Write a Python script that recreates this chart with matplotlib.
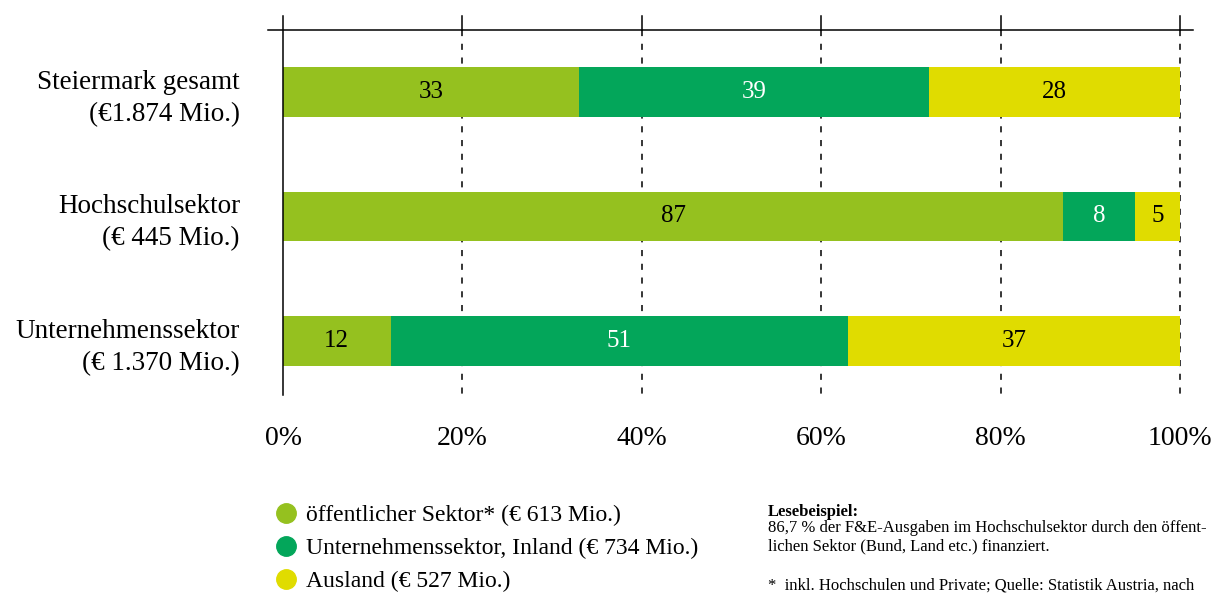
import matplotlib.pyplot as plt
from matplotlib.lines import Line2D

plt.rcParams['font.family'] = ['Liberation Serif', 'DejaVu Serif']

# Anteile je Finanzierungsquelle (in %)
kategorien = ['Steiermark gesamt\n(€1.874 Mio.)',
              'Hochschulsektor\n(€ 445 Mio.)',
              'Unternehmenssektor\n(€ 1.370 Mio.)']
oeffentlich = [33, 87, 12]
unternehmen = [39, 8, 51]
ausland = [28, 5, 37]

serien = [
    ('öffentlicher Sektor* (€ 613 Mio.)', oeffentlich, '#95c11f', 'black'),
    ('Unternehmenssektor, Inland (€ 734 Mio.)', unternehmen, '#03a65a', 'white'),
    ('Ausland (€ 527 Mio.)', ausland, '#e0dc00', 'black'),
]
ticks = [0, 20, 40, 60, 80, 100]

fig = plt.figure(figsize=(12.27, 5.95), dpi=100)
ax = fig.add_axes([283 / 1227, 1 - 400 / 595, 897 / 1227, 370 / 595])

y = list(range(len(kategorien)))
links = [0] * len(kategorien)
for name, werte, farbe, textfarbe in serien:
    bars = ax.barh(y, werte, left=links, height=0.40, color=farbe, zorder=3)
    for b, w in zip(bars, werte):
        ax.text(b.get_x() + b.get_width() / 2, b.get_y() + b.get_height() / 2, str(w),
                ha='center', va='center', fontsize=18, color=textfarbe, zorder=4)
    links = [l + w for l, w in zip(links, werte)]

ax.set_xlim(0, 100)
ax.set_ylim(2.474, -0.498)

for s in ax.spines.values():
    s.set_visible(False)

# Gitterlinien gestrichelt, oben kurze Striche
for t in ticks[1:]:
    ax.plot([t, t], [-0.498, 2.474], color='black', lw=1.1, ls=(0, (4, 5)), zorder=1, clip_on=False)
    ax.plot([t, t], [-0.498, -0.61], color='black', lw=1.1, zorder=1, clip_on=False)
ax.plot([0, 0], [-0.61, 2.43], color='black', lw=1.1, zorder=5, clip_on=False)
ax.plot([-1.7, 101.5], [-0.498, -0.498], color='black', lw=1.1, zorder=5, clip_on=False)

ax.set_xticks(ticks)
ax.set_xticklabels([f'{t}%' for t in ticks], fontsize=20)
ax.tick_params(axis='x', length=0, pad=19)
ax.set_yticks(y)
ax.set_yticklabels(kategorien, fontsize=19.5, linespacing=1.35)
ax.tick_params(axis='y', length=0, pad=31)
for lbl in ax.get_yticklabels():
    lbl.set_multialignment('right')

# Legende
handles = [Line2D([], [], marker='o', ls='none', markersize=14, markerfacecolor=f,
                  markeredgecolor=f) for _, _, f, _ in serien]
fig.legend(handles, [n for n, _, _, _ in serien], loc='upper left',
           bbox_to_anchor=(253 / 1227, 1 - 483 / 595), frameon=False, fontsize=17,
           handletextpad=0.35, labelspacing=0.5, handlelength=1.0)

# Lesebeispiel und Fußnote
fig.text(768 / 1227, 1 - 504 / 595, 'Lesebeispiel:', fontsize=12, weight='bold', va='top')
fig.text(768 / 1227, 1 - 520 / 595,
         '86,7 % der F&E-Ausgaben im Hochschulsektor durch den öffent-\n'
         'lichen Sektor (Bund, Land etc.) finanziert.', fontsize=12, va='top', linespacing=1.2)
fig.text(768 / 1227, 1 - 577 / 595,
         '*  inkl. Hochschulen und Private; Quelle: Statistik Austria, nach',
         fontsize=12, va='top')

fig.savefig('out.png', dpi=100)
